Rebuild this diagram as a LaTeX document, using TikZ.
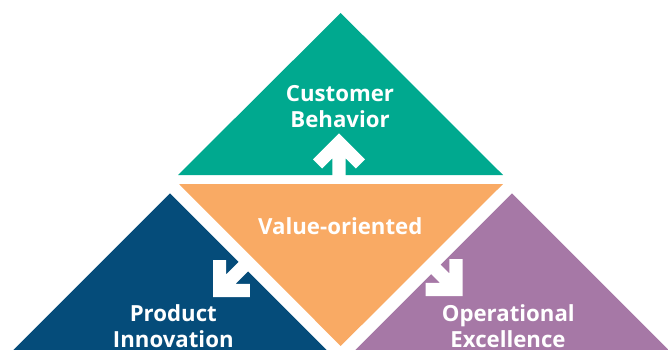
\documentclass[tikz,border=0pt]{standalone}
\usepackage{fontspec}
\setmainfont{Open Sans}
\definecolor{cTeal}{HTML}{00A98F}
\definecolor{cOrange}{HTML}{F9AA64}
\definecolor{cBlue}{HTML}{054C7A}
\definecolor{cPurple}{HTML}{A678A6}
\tikzset{
  lab/.style={text=white, font=\fontsize{22.2}{26}\selectfont\bfseries, inner sep=0pt, anchor=base},
  pics/blockarrow/.style={code={
    \fill[white] (0,0) -- (-26,26) -- (-35.2,16.8) -- (-25.1,6.7) -- (-#1,6.7)
      -- (-#1,-6.7) -- (-25.1,-6.7) -- (-35.2,-16.8) -- (-26,-26) -- cycle;}}
}
\begin{document}
\begin{tikzpicture}[x=1pt,y=-1pt]
\useasboundingbox (0,0) rectangle (668,350);
\clip (0,0) rectangle (668,350);
% triangles
\fill[cTeal] (340.7,13) -- (503,175) -- (178,175) -- cycle;
\fill[cOrange] (179,184) -- (503,184) -- (340.7,346) -- cycle;
\fill[cBlue] (170,193.3) -- (370,393.3) -- (-30,393.3) -- cycle;
\fill[cPurple] (512,193.3) -- (712,393.3) -- (312,393.3) -- cycle;
% block arrows
\coordinate (tipU) at (339,133.3);
\coordinate (tipL) at (213,297);
\coordinate (tipR) at (462.5,296);
\pic[rotate=90] at (tipU) {blockarrow=44};
\pic[rotate=225] at (tipL) {blockarrow=50};
\pic[rotate=-45] at (tipR) {blockarrow=50};
% labels
\node[lab] (cust1) at (340,101.7) {Customer};
\node[lab] (cust2) at (340,127.7) {Behavior};
\node[lab] (val) at (340.3,234) {Value-oriented};
\node[lab] (prod1) at (173.3,321.7) {Product};
\node[lab] (prod2) at (173.3,347.7) {Innovation};
\node[lab] (op1) at (508.3,321.7) {Operational};
\node[lab] (op2) at (508,347.7) {Excellence};
\end{tikzpicture}
\end{document}
